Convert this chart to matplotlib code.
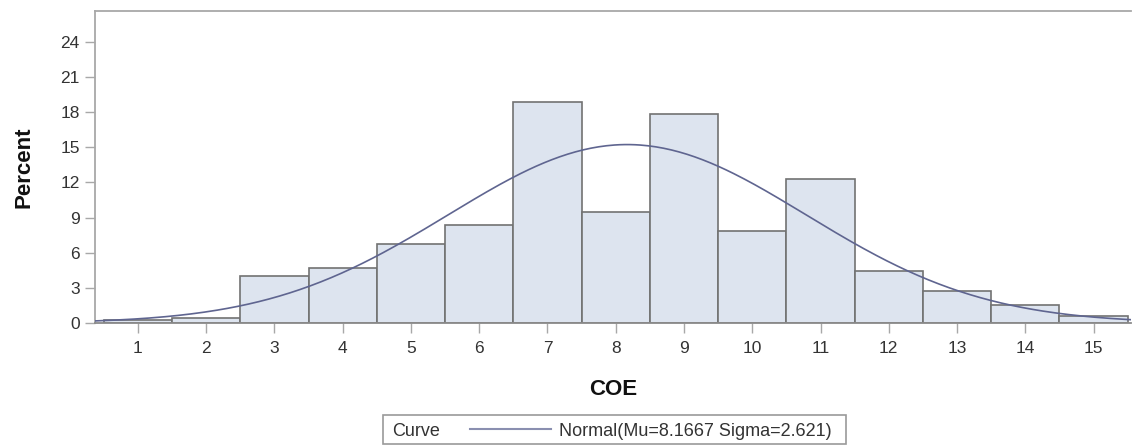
import matplotlib
matplotlib.use("Agg")
import matplotlib.pyplot as plt
import numpy as np
from matplotlib.lines import Line2D
from matplotlib.patches import Rectangle

plt.rcParams["font.family"] = ["Liberation Sans", "DejaVu Sans"]

# Histogram of COE (percent per unit bin)
coe_values = [1, 2, 3, 4, 5, 6, 7, 8, 9, 10, 11, 12, 13, 14, 15]
percent = [0.25, 0.45, 4.0, 4.66, 6.73, 8.35, 18.87, 9.46, 17.8, 7.87, 12.28, 4.46, 2.75, 1.5, 0.6]
y_ticks = [0, 3, 6, 9, 12, 15, 18, 21, 24]

# Fitted normal curve parameters (from the legend)
mu = 8.1667
sigma = 2.621
legend_label = "Normal(Mu=8.1667 Sigma=2.621)"

bar_fill = "#dde4ef"
bar_edge = "#727272"
curve_color = "#5f6590"
frame_color = "#a8a8a8"
text_color = "#333333"

fig = plt.figure(figsize=(11.33, 4.45), dpi=100)
ax = fig.add_axes([0.0838, 0.274, 0.9145, 0.701])

ax.bar(coe_values, percent, width=1.0, color=bar_fill, edgecolor=bar_edge,
       linewidth=1.2, zorder=2)

xlo, xhi = 0.37, 15.55
xs = np.linspace(xlo, xhi, 400)
dens = 100.0 / (sigma * np.sqrt(2 * np.pi)) * np.exp(-0.5 * ((xs - mu) / sigma) ** 2)
ax.plot(xs, dens, color=curve_color, linewidth=1.2, zorder=3)

ax.set_xlim(xlo, xhi)
ax.set_ylim(0, 26.6)
ax.set_xticks(coe_values)
ax.set_yticks(y_ticks)
ax.tick_params(axis="both", colors=frame_color, labelcolor=text_color,
               labelsize=12.5, length=7, width=1)
ax.tick_params(axis="x", pad=6)
ax.tick_params(axis="y", pad=4)

for side in ("top", "left"):
    ax.spines[side].set_color(frame_color)
    ax.spines[side].set_linewidth(1.3)
ax.spines["bottom"].set_color("#8a8a8a")
ax.spines["bottom"].set_linewidth(1.3)
ax.spines["right"].set_visible(False)

ax.set_xlabel("COE", fontsize=16, fontweight="bold", color="#111111")
ax.set_ylabel("Percent", fontsize=16, fontweight="bold", color="#111111")
ax.xaxis.set_label_coords(0.5, -0.18)
ax.yaxis.set_label_coords(-0.058, 0.5)

# Legend box: "Curve" title on the left, entry to the right
fig.patches.append(Rectangle((383 / 1133, 1 - 444 / 445), (846 - 383) / 1133, 29 / 445,
                             transform=fig.transFigure, facecolor="white",
                             edgecolor="#9a9a9a", linewidth=1.2))
fig.text(392 / 1133, 1 - 431 / 445, "Curve", fontsize=13, color=text_color,
         va="center", ha="left")
handle = Line2D([], [], color="#8a8fb0", linewidth=1.5)
fig.legend([handle], [legend_label], loc="center left",
           bbox_to_anchor=(470 / 1133, 1 - 431 / 445), frameon=False,
           fontsize=13, handlelength=4.5, handletextpad=0.45,
           borderpad=0, borderaxespad=0, labelcolor=text_color)

fig.savefig("out.png", dpi=100)
